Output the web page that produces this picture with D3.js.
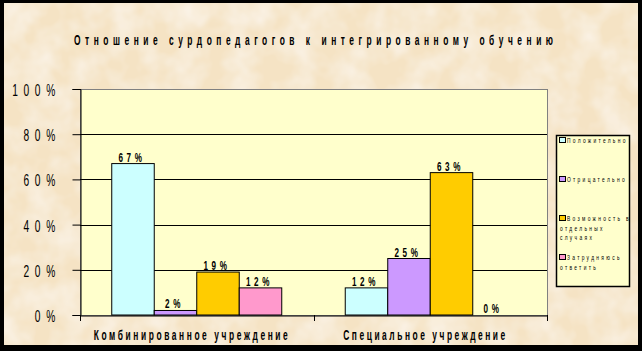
<!DOCTYPE html>
<html>
<head>
<meta charset="utf-8">
<script src="https://cdn.jsdelivr.net/npm/d3@7"></script>
<style>
  html, body { margin: 0; padding: 0; background: #000; }
  svg { display: block; }
  text { font-family: "Liberation Sans", Arial, sans-serif; font-weight: bold; fill: #000; }
</style>
</head>
<body>
<svg id="chart" width="642" height="351"></svg>
<script>
const title = "Отношение сурдопедагогов к интегрированному обучению";
const categories = ["Комбинированное учреждение", "Специальное учреждение"];
const series = ["Положительно", "Отрицательно", "Возможность в отдельных случаях", "Затрудняюсь ответить"];
// legend lines as they wrap in the original box
const legendLines = [["Положительно"], ["Отрицательно"], ["Возможность в", "отдельных", "случаях"], ["Затрудняюсь", "ответить"]];
const colors = ["#CCFFFF", "#CC99FF", "#FFCC00", "#FF99CC"];
// values per series, one per category
const positive = [0.67, 0.12];
const negative = [0.02, 0.25];
const sometimes = [0.19, 0.63];
const undecided = [0.12, 0.00];
const yTicks = [0, 0.2, 0.4, 0.6, 0.8, 1];

const values = [positive, negative, sometimes, undecided];
const pct = d => Math.round(d * 100) + "%";

const svg = d3.select("#chart");

// narrow, letter-spaced text like the old office chart
// (regular font squeezed horizontally)
function narrow(parent, str, x, y, o) {
  const sx = o.sx || 0.6;
  const t = parent.append("text")
    .attr("transform", `translate(${x},${y}) scale(${sx},1)`)
    .style("font-size", o.size + "px")
    .text(str);
  if (o.weight) t.style("font-weight", o.weight);
  if (o.fill) t.attr("fill", o.fill);
  if (o.length) {
    t.attr("textLength", o.length / sx).attr("lengthAdjust", "spacing");
  } else if (o.spacing) {
    t.style("letter-spacing", (o.spacing / sx) + "px");
  }
  if (o.anchor) t.attr("text-anchor", o.anchor);
  return t;
}

// parchment background with a light texture
const defs = svg.append("defs");
const f = defs.append("filter").attr("id", "paper").attr("x", 0).attr("y", 0).attr("width", "100%").attr("height", "100%");
f.append("feTurbulence").attr("type", "fractalNoise").attr("baseFrequency", 0.035).attr("numOctaves", 3).attr("seed", 4).attr("result", "n");
f.append("feColorMatrix").attr("in", "n").attr("type", "matrix")
  .attr("values", "0 0 0 0 1  0 0 0 0 1  0 0 0 0 1  0 0 0 -0.9 0.6").attr("result", "w");
f.append("feComposite").attr("in", "w").attr("in2", "SourceGraphic").attr("operator", "in").attr("result", "wc");
f.append("feMerge").call(m => { m.append("feMergeNode").attr("in", "SourceGraphic"); m.append("feMergeNode").attr("in", "wc"); });

svg.append("rect").attr("width", 642).attr("height", 351).attr("fill", "#000");
svg.append("rect").attr("x", 4).attr("y", 3).attr("width", 634).attr("height", 342)
  .attr("fill", "#F5E3C4").attr("filter", "url(#paper)");

const plot = { left: 80, right: 547, top: 89, bottom: 315 };

const x0 = d3.scaleBand().domain(categories).range([plot.left, plot.right]);
const x1 = d3.scaleBand().domain(series).range([0, x0.bandwidth()]).paddingOuter(0.747);
const y = d3.scaleLinear().domain([0, 1]).range([plot.bottom, plot.top]);

// plot area
svg.append("rect")
  .attr("x", plot.left + 0.5).attr("y", plot.top + 0.5)
  .attr("width", plot.right - plot.left).attr("height", plot.bottom - plot.top)
  .attr("fill", "#FFFFCC").attr("stroke", "#808080").attr("stroke-width", 1);

// gridlines
svg.append("g").selectAll("line")
  .data(yTicks.filter(d => d > 0 && d < 1))
  .join("line")
  .attr("x1", plot.left).attr("x2", plot.right)
  .attr("y1", d => Math.round(y(d)) + 0.5).attr("y2", d => Math.round(y(d)) + 0.5)
  .attr("stroke", "#000");

// bars
const cells = (c, ci) => series.map((s, si) => ({ s, si, v: values[si][ci] }));
const groups = svg.append("g").selectAll("g")
  .data(categories)
  .join("g")
  .attr("transform", d => `translate(${x0(d)},0)`);

groups.selectAll("rect")
  .data(cells)
  .join("rect")
  .attr("x", d => x1(d.s))
  .attr("y", d => y(d.v))
  .attr("width", x1.bandwidth())
  .attr("height", d => y(0) - y(d.v))
  .attr("fill", d => colors[d.si])
  .attr("stroke", "#000").attr("stroke-width", 1);

groups.each(function (c, ci) {
  const g = d3.select(this);
  cells(c, ci).forEach(d => {
    narrow(g, pct(d.v), x1(d.s) + x1.bandwidth() / 2 - 1, y(d.v) - 2,
      { size: 13.5, spacing: 3.6, anchor: "middle" });
  });
});

// y axis (line + ticks from d3, labels drawn narrow)
const yAxis = d3.axisLeft(y).tickValues(yTicks).tickSize(8).tickFormat("");
svg.append("g")
  .attr("transform", `translate(${plot.left + 0.5},0)`)
  .call(yAxis)
  .call(g => g.select(".domain").attr("stroke", "#000"))
  .call(g => g.selectAll(".tick line").attr("stroke", "#000"));
const yl = svg.append("g");
yTicks.forEach(v => narrow(yl, pct(v), 61, y(v) + 7, { size: 17, spacing: 5.7, anchor: "end", weight: "normal" }));

// x axis
const xAxis = d3.axisBottom(x0).tickSize(0).tickFormat("");
svg.append("g")
  .attr("transform", `translate(0,${plot.bottom + 0.5})`)
  .call(xAxis)
  .call(g => g.selectAll(".tick").remove())
  .call(g => g.select(".domain").attr("stroke", "#000"));
svg.append("g").selectAll("line")
  .data([plot.left, x0(categories[1]), plot.right])
  .join("line")
  .attr("x1", d => Math.round(d) + 0.5).attr("x2", d => Math.round(d) + 0.5)
  .attr("y1", plot.bottom).attr("y2", plot.bottom + 6)
  .attr("stroke", "#000");

const catLen = [194, 162];
const cl = svg.append("g");
categories.forEach((c, i) => {
  narrow(cl, c, x0(c) + x0.bandwidth() / 2 - 6, 340, { size: 14, length: catLen[i], anchor: "middle" });
});

// title
narrow(svg, title, 74, 45, { size: 14, length: 479 });

// legend
const lg = svg.append("g");
lg.append("rect")
  .attr("x", 556.5).attr("y", 135.5).attr("width", 73).attr("height", 151)
  .attr("fill", "#FFFFCC").attr("stroke", "#000").attr("stroke-width", 1.5);
series.forEach((s, i) => {
  const e = lg.append("g").attr("transform", `translate(559,${140 + i * 39})`);
  e.append("rect")
    .attr("x", 0.5).attr("y", -2.5).attr("width", 6).attr("height", 5)
    .attr("fill", colors[i]).attr("stroke", "#000");
  legendLines[i].forEach((t, j) => {
    narrow(e, t, j === 0 ? 8 : 1, 3 + j * 9.5, { size: 7.5, spacing: 2.3, weight: "normal", fill: "#333", sx: 0.65 });
  });
});
</script>
</body>
</html>
